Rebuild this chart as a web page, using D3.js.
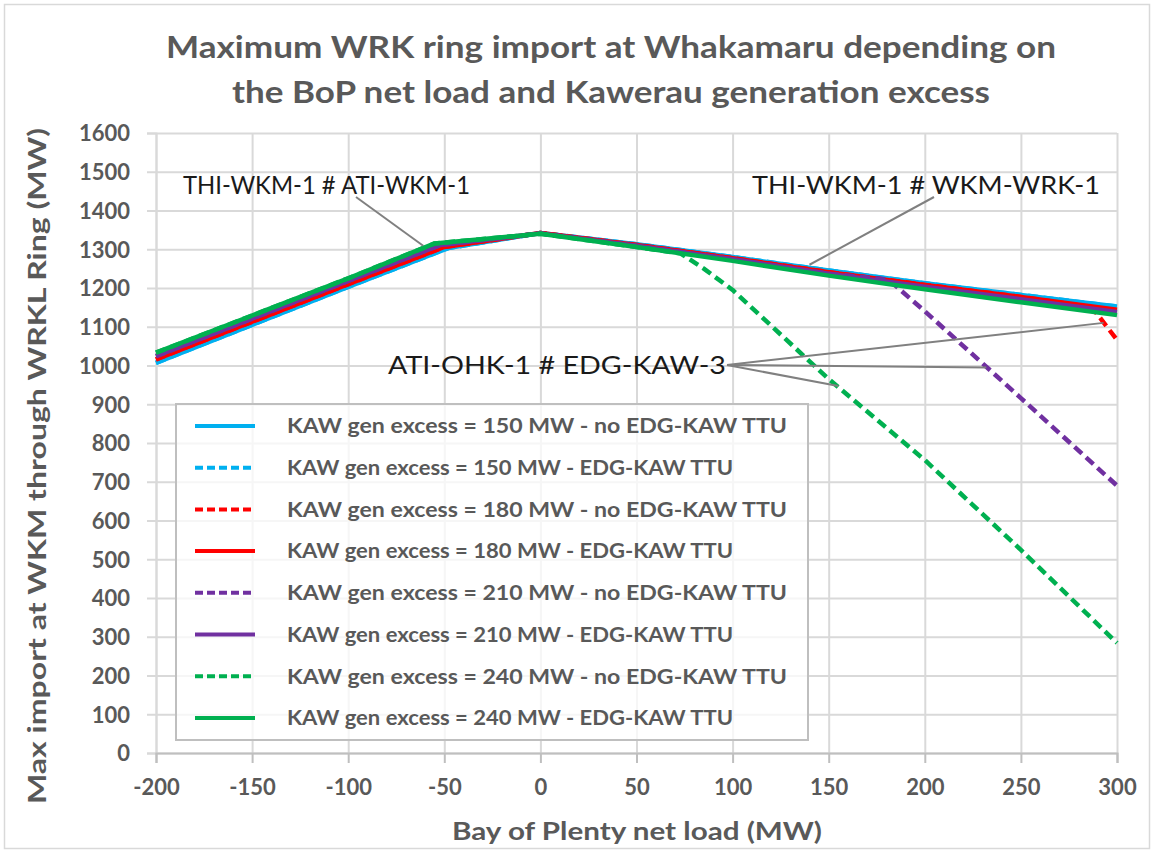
<!DOCTYPE html>
<html>
<head>
<meta charset="utf-8">
<script src="https://cdn.jsdelivr.net/npm/d3@7"></script>
<style>
  html, body { margin: 0; padding: 0; background: #fff; }
  svg { display: block; }
</style>
</head>
<body>
<svg id="chart" width="1153" height="852"></svg>
<script>
// ---------- DATA ----------
const titleLines = ["Maximum WRK ring import at Whakamaru depending on", "the BoP net load and Kawerau generation excess"];
const xTicks = [-200, -150, -100, -50, 0, 50, 100, 150, 200, 250, 300];
const yTicks = [0, 100, 200, 300, 400, 500, 600, 700, 800, 900, 1000, 1100, 1200, 1300, 1400, 1500, 1600];
const xTitle = "Bay of Plenty net load (MW)";
const yTitle = "Max import at WKM through WRKL Ring (MW)";

const blueSolidX   = [-200, -150, -100, -48, 0, 50, 100, 150, 200, 250, 300];
const blueSolidY   = [1007, 1105, 1203, 1303, 1342, 1313, 1280, 1245, 1212, 1182, 1152];
const blueDashedX  = [-200, -150, -100, -48, 0, 50, 100, 150, 200, 250, 300];
const blueDashedY  = [1007, 1105, 1203, 1303, 1342, 1313, 1280, 1245, 1212, 1182, 1152];
const redDashedX   = [-200, -150, -100, -50, 0, 50, 100, 150, 200, 250, 287, 300];
const redDashedY   = [1016, 1113, 1210, 1306, 1342, 1311, 1277, 1241, 1208, 1177, 1150, 1066];
const redSolidX    = [-200, -150, -100, -50, 0, 50, 100, 150, 200, 250, 300];
const redSolidY    = [1016, 1113, 1210, 1306, 1342, 1311, 1277, 1241, 1208, 1177, 1144];
const purpleDashedX = [-200, -150, -100, -52, 0, 50, 100, 150, 181, 200, 250, 300];
const purpleDashedY = [1024, 1121, 1218, 1311, 1341, 1309, 1274, 1237, 1222, 1140, 916, 690];
const purpleSolidX = [-200, -150, -100, -52, 0, 50, 100, 150, 200, 250, 300];
const purpleSolidY = [1024, 1121, 1218, 1311, 1341, 1309, 1274, 1237, 1203, 1171, 1138];
const greenDashedX = [-200, -150, -100, -55, 0, 50, 73, 85, 100, 150, 200, 250, 300];
const greenDashedY = [1033, 1129, 1225, 1315, 1340, 1306, 1289, 1250, 1195, 965, 756, 524, 284];
const greenSolidX  = [-200, -150, -100, -55, 0, 50, 100, 150, 200, 250, 300];
const greenSolidY  = [1033, 1129, 1225, 1315, 1340, 1306, 1270, 1232, 1197, 1163, 1130];

const seriesNames = [
  "KAW gen excess = 150 MW - no EDG-KAW TTU",
  "KAW gen excess = 150 MW - EDG-KAW TTU",
  "KAW gen excess = 180 MW - no EDG-KAW TTU",
  "KAW gen excess = 180 MW - EDG-KAW TTU",
  "KAW gen excess = 210 MW - no EDG-KAW TTU",
  "KAW gen excess = 210 MW - EDG-KAW TTU",
  "KAW gen excess = 240 MW - no EDG-KAW TTU",
  "KAW gen excess = 240 MW - EDG-KAW TTU"
];
const seriesColors = ["#00B0F0", "#00B0F0", "#FF0000", "#FF0000", "#7030A0", "#7030A0", "#00B050", "#00B050"];
const seriesDashed = [false, true, true, false, true, false, true, false];
const seriesX = [blueSolidX, blueDashedX, redDashedX, redSolidX, purpleDashedX, purpleSolidX, greenDashedX, greenSolidX];
const seriesY = [blueSolidY, blueDashedY, redDashedY, redSolidY, purpleDashedY, purpleSolidY, greenDashedY, greenSolidY];

const annotationTexts = ["THI-WKM-1 # ATI-WKM-1", "THI-WKM-1 # WKM-WRK-1", "ATI-OHK-1 # EDG-KAW-3"];

// ---------- LAYOUT ----------
const W = 1153, H = 852;
const plot = { left: 156, right: 1117, top: 133, bottom: 753 };
const FONT = "Lato, 'Open Sans', 'Noto Sans', sans-serif";
const TXT = "#595959";
const GRID = "#D9D9D9";
const fmt = d => String(d);

const svg = d3.select("#chart");

// outer chart border
svg.append("rect").attr("x", 4.5).attr("y", 4.5).attr("width", W - 8).attr("height", H - 8)
  .attr("fill", "#fff").attr("stroke", "#D9D9D9").attr("stroke-width", 1.5);

const x = d3.scaleLinear().domain([-200, 300]).range([plot.left, plot.right]);
const y = d3.scaleLinear().domain([0, 1600]).range([plot.bottom, plot.top]);

// gridlines
const g = svg.append("g");
g.append("g").attr("transform", `translate(0,${plot.bottom})`)
  .call(d3.axisBottom(x).tickValues(xTicks).tickSize(-(plot.bottom - plot.top)).tickFormat(""))
  .call(s => s.select(".domain").remove())
  .call(s => s.selectAll("line").attr("stroke", GRID).attr("stroke-width", 2));
g.append("g").attr("transform", `translate(${plot.left},0)`)
  .call(d3.axisLeft(y).tickValues(yTicks).tickSize(-(plot.right - plot.left)).tickFormat(""))
  .call(s => s.select(".domain").remove())
  .call(s => s.selectAll("line").attr("stroke", GRID).attr("stroke-width", 2));

// y-axis outward ticks + labels
const ya = svg.append("g").attr("transform", `translate(${plot.left},0)`)
  .call(d3.axisLeft(y).tickValues(yTicks).tickFormat(fmt).tickSize(9).tickPadding(17));
ya.select(".domain").attr("stroke", GRID).attr("stroke-width", 2);
ya.selectAll("line").attr("stroke", GRID).attr("stroke-width", 2);
ya.selectAll("text").attr("fill", TXT).attr("font-family", FONT).attr("font-weight", "bold")
  .attr("font-size", 22).attr("dy", "0.36em");

// x-axis
const xa = svg.append("g").attr("transform", `translate(0,${plot.bottom})`)
  .call(d3.axisBottom(x).tickValues(xTicks).tickFormat(fmt).tickSize(10).tickPadding(16));
xa.select(".domain").attr("stroke", "#BFBFBF").attr("stroke-width", 2);
xa.selectAll("line").attr("stroke", "#BFBFBF").attr("stroke-width", 2);
xa.selectAll("text").attr("fill", TXT).attr("font-family", FONT).attr("font-weight", "bold")
  .attr("font-size", 22).attr("dy", "0.71em");

// lines
const line = d3.line().x(d => x(d[0])).y(d => y(d[1]));
const linesG = svg.append("g");
seriesNames.forEach((name, i) => {
  const pts = seriesX[i].map((v, j) => [v, seriesY[i][j]]);
  linesG.append("path").datum(pts)
    .attr("d", line)
    .attr("fill", "none")
    .attr("stroke", seriesColors[i])
    .attr("stroke-width", 4.5)
    .attr("stroke-linejoin", "round")
    .attr("stroke-dasharray", seriesDashed[i] ? "10,5.5" : null);
});

// annotations
const ann = svg.append("g");
const leader = (x1, y1, x2, y2) => ann.append("line")
  .attr("x1", x1).attr("y1", y1).attr("x2", x2).attr("y2", y2)
  .attr("stroke", "#808080").attr("stroke-width", 2);
leader(356, 197, x(-61), y(1309));
leader(934, 197, x(140), y(1260));
leader(727, 365, x(293), y(1110));
leader(727, 365, x(232), y(995));
leader(727, 365, x(155), y(947));

ann.append("text").attr("x", 183).attr("y", 194).text(annotationTexts[0])
  .attr("font-family", FONT).attr("font-size", 25).attr("fill", "#1a1a1a")
  .attr("textLength", 287).attr("lengthAdjust", "spacingAndGlyphs");
ann.append("text").attr("x", 752).attr("y", 194).text(annotationTexts[1])
  .attr("font-family", FONT).attr("font-size", 25).attr("fill", "#1a1a1a")
  .attr("textLength", 348).attr("lengthAdjust", "spacingAndGlyphs");
ann.append("text").attr("x", 388).attr("y", 374).text(annotationTexts[2])
  .attr("font-family", FONT).attr("font-size", 25).attr("fill", "#1a1a1a")
  .attr("textLength", 338).attr("lengthAdjust", "spacingAndGlyphs");

// legend
const lg = svg.append("g");
lg.append("rect").attr("x", 176).attr("y", 404).attr("width", 632).attr("height", 336)
  .attr("fill", "#fff").attr("fill-opacity", 0.75).attr("stroke", "#BFBFBF").attr("stroke-width", 2);
seriesNames.forEach((name, i) => {
  const cy = 426 + i * 41.7;
  lg.append("line").attr("x1", 195).attr("x2", 255).attr("y1", cy).attr("y2", cy)
    .attr("stroke", seriesColors[i]).attr("stroke-width", 4)
    .attr("stroke-dasharray", seriesDashed[i] ? "8,4" : null);
  lg.append("text").attr("x", 287).attr("y", cy).attr("dy", "0.35em").text(name)
    .attr("font-family", FONT).attr("font-weight", "bold").attr("font-size", 21).attr("fill", TXT)
    .attr("textLength", name.includes("no ") ? 500 : 446).attr("lengthAdjust", "spacingAndGlyphs");
});

// titles
titleLines.forEach((t, i) => {
  svg.append("text").attr("x", 611).attr("y", 58 + i * 45).attr("text-anchor", "middle").text(t)
    .attr("font-family", FONT).attr("font-weight", "bold").attr("font-size", 31).attr("fill", TXT)
    .attr("textLength", i === 0 ? 890 : 758).attr("lengthAdjust", "spacingAndGlyphs");
});
svg.append("text").attr("x", 637).attr("y", 840).attr("text-anchor", "middle").text(xTitle)
  .attr("font-family", FONT).attr("font-weight", "bold").attr("font-size", 24).attr("fill", TXT)
  .attr("textLength", 370).attr("lengthAdjust", "spacingAndGlyphs");
svg.append("text").attr("transform", "translate(46,466) rotate(-90)").attr("text-anchor", "middle").text(yTitle)
  .attr("font-family", FONT).attr("font-weight", "bold").attr("font-size", 24).attr("fill", TXT)
  .attr("textLength", 676).attr("lengthAdjust", "spacingAndGlyphs");
</script>
</body>
</html>
